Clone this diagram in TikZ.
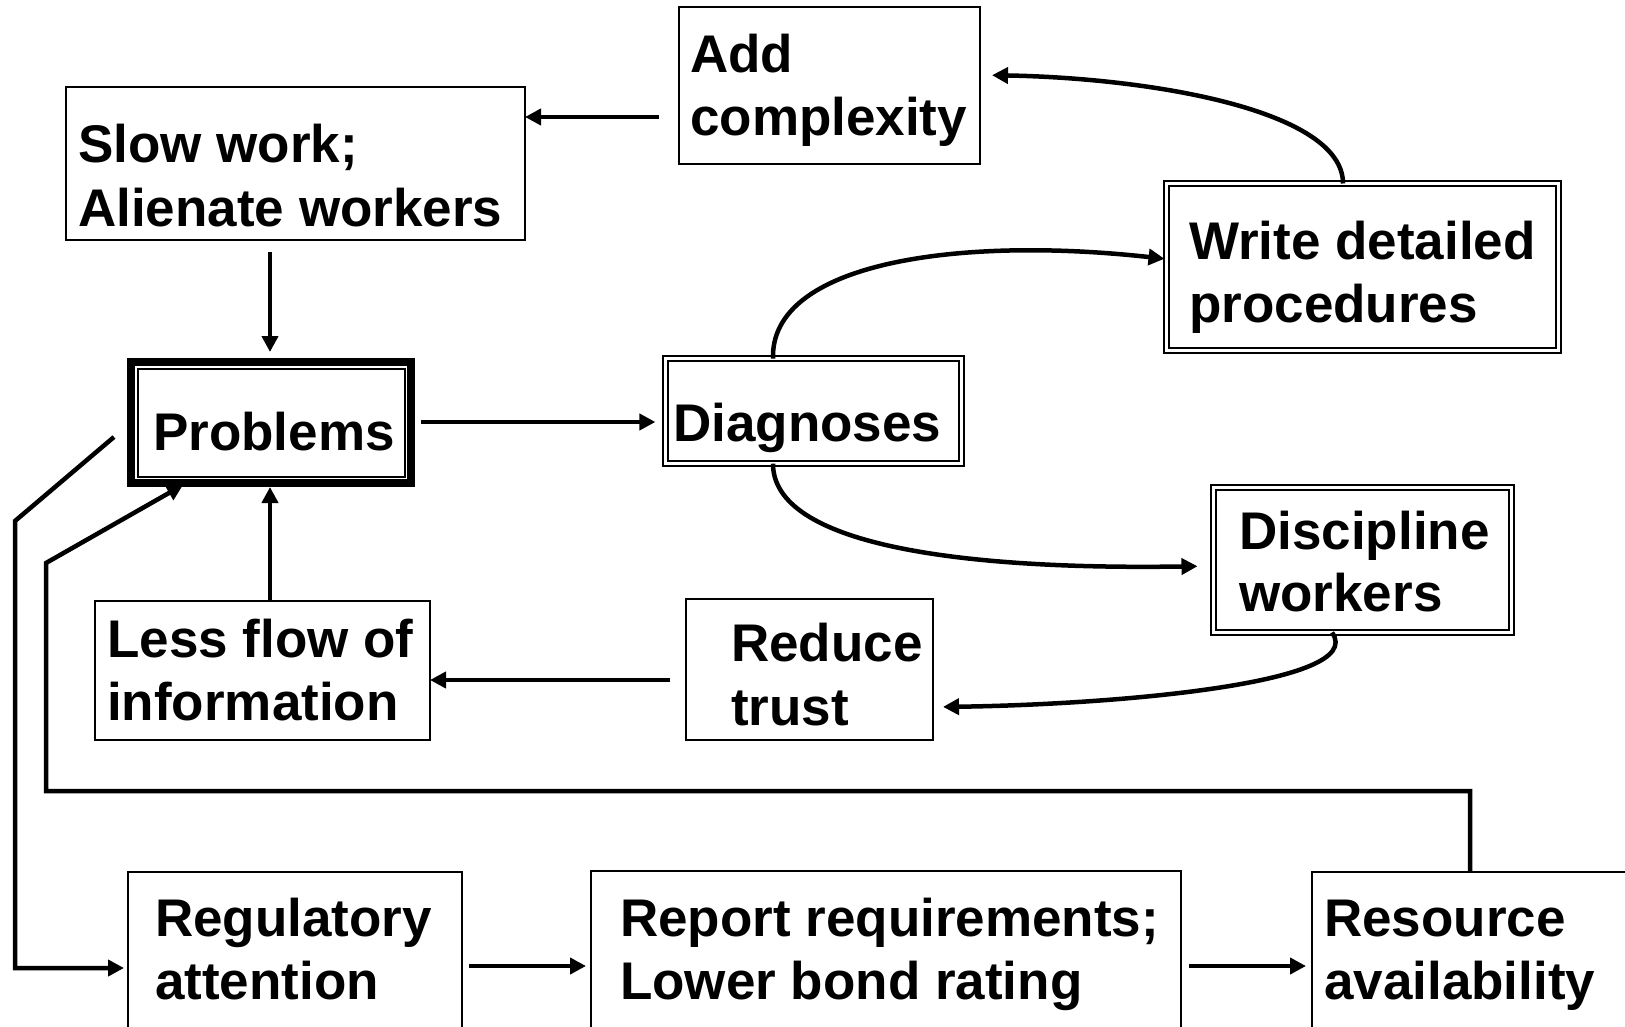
\documentclass[tikz,border=0pt]{standalone}
\usepackage{fontspec}
\setmainfont{Liberation Sans}
\usetikzlibrary{arrows.meta}
\begin{document}
\begin{tikzpicture}[x=1pt,y=-1pt,
  sbox/.style={draw, line width=2pt, inner sep=0pt, outer sep=0pt, rectangle},
  dbox/.style={draw, double, double distance=3pt, line width=2pt, inner sep=0pt, outer sep=0pt, rectangle},
  tbox/.style={draw, line width=8pt, inner sep=0pt, outer sep=0pt, rectangle},
  lbl/.style={anchor=base west, inner sep=0pt, font=\fontsize{53}{63}\selectfont\bfseries},
  conn/.style={line width=4.5pt, -{Triangle[length=16pt,width=16pt]}}]
\useasboundingbox (0,0) rectangle (1625,1027);
\clip (0,0) rectangle (1625,1027);
% boxes
\node[sbox, minimum width=301pt, minimum height=157pt] (add) at (829.5,85.5) {};
\node[sbox, minimum width=459pt, minimum height=153pt] (slow) at (295.5,163.5) {};
\node[dbox, minimum width=392pt, minimum height=167pt] (write) at (1362.5,267) {};
\node[tbox, minimum width=280pt, minimum height=121pt] (prob) at (271,422.5) {};
\draw[line width=2pt] ([shift={(6.5,6.5)}]prob.north west) rectangle ([shift={(-6.5,-6.5)}]prob.south east);
\node[dbox, minimum width=296pt, minimum height=105pt] (diag) at (813.4,411.2) {};
\node[dbox, minimum width=298pt, minimum height=145pt] (disc) at (1362.5,560) {};
\node[sbox, minimum width=247pt, minimum height=141pt] (reduce) at (809.5,669.5) {};
\node[sbox, minimum width=335pt, minimum height=139pt] (less) at (262.5,670.5) {};
\node[sbox, minimum width=334pt, minimum height=208pt] (reg) at (295,976) {};
\node[sbox, minimum width=590pt, minimum height=209pt] (report) at (886,975.5) {};
\node[sbox, minimum width=388pt, minimum height=208pt] (res) at (1506,976) {};
% texts
\node[lbl] (addA) at (690,72.5) {Add};
\node[lbl] (addB) at (690,135.8) {complexity};
\node[lbl] (slowA) at (78,162.7) {Slow work;};
\node[lbl] (slowB) at (78,226) {Alienate workers};
\node[lbl] (writeA) at (1189,259) {Write detailed};
\node[lbl] (writeB) at (1189,322) {procedures};
\node[lbl] (probA) at (153,450) {Problems};
\node[lbl] (diagA) at (673,441) {Diagnoses};
\node[lbl] (discA) at (1239,549) {Discipline};
\node[lbl] (discB) at (1239,611) {workers};
\node[lbl] (redA) at (731,661) {Reduce};
\node[lbl] (redB) at (731,725) {trust};
\node[lbl] (lessA) at (107,657) {Less flow of};
\node[lbl] (lessB) at (107,720) {information};
\node[lbl] (regA) at (155,936) {Regulatory};
\node[lbl] (regB) at (155,999) {attention};
\node[lbl] (repA) at (620,936) {Report requirements;};
\node[lbl] (repB) at (620,999) {Lower bond rating};
\node[lbl] (resA) at (1324,936) {Resource};
\node[lbl] (resB) at (1324,999) {availability};
% connectors
\draw[conn, shorten <=20pt] (add.west |- 0,117) -- (slow.east |- 0,117);
\draw[conn, shorten <=12pt, shorten >=10pt] (slow.south -| 270,0) -- (prob.north -| 270,0);
\draw[conn, shorten <=10pt, shorten >=10pt] (prob.east |- 0,422) -- (diag.west |- 0,422);
\draw[conn, shorten >=2pt] (diag.north -| 773,0) .. controls (770,262) and (960,236) .. (write.west |- 0,259);
\draw[conn, shorten >=12pt] (write.north -| 1343,0) .. controls (1343,110) and (1150,78) .. (add.east |- 0,75);
\draw[conn, shorten >=16pt] (diag.south -| 773,0) .. controls (773,545) and (960,570) .. (disc.west |- 0,566);
\draw[conn, shorten >=10pt] (disc.south -| 1332,0) .. controls (1370,685) and (1100,705) .. (reduce.east |- 0,707);
\draw[conn, shorten <=16pt] (reduce.west |- 0,680) -- (less.east |- 0,680);
\draw[conn, shorten >=4pt] (less.north -| 270,0) -- (prob.south -| 270,0);
\draw[conn, shorten >=4pt] ([xshift=-17pt]prob.west |- 0,437) -- (15,521) -- (15,968) -- (reg.west |- 0,968);
\draw[conn, shorten >=4pt] (res.north -| 1470,0) -- (1470,791) -| (46,563) -- (prob.south -| 186.5,0);
\draw[conn, shorten <=7pt, shorten >=5pt] (reg.east |- 0,966) -- (report.west |- 0,966);
\draw[conn, shorten <=8pt, shorten >=6pt] (report.east |- 0,966) -- (res.west |- 0,966);
\end{tikzpicture}
\end{document}
